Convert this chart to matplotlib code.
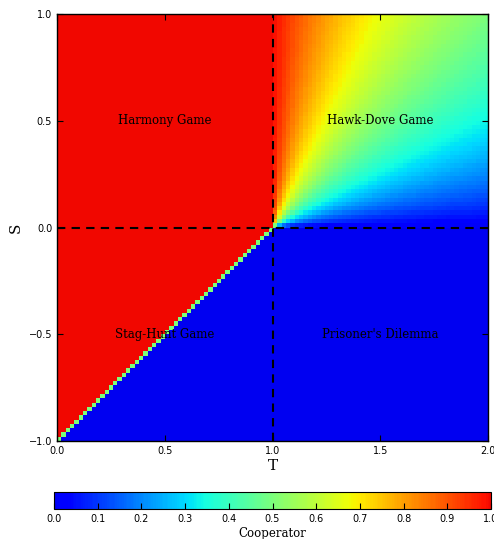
import numpy as np
import matplotlib
matplotlib.use("Agg")
import matplotlib.pyplot as plt
from matplotlib.colors import LinearSegmentedColormap

# Axes ranges / grid (100 x 100 cells)
T_range = [0.0, 2.0]
S_range = [-1.0, 1.0]
n_cells = 100

# Region labels and their (T, S) anchor points
game_labels = ["Harmony Game", "Hawk-Dove Game", "Stag-Hunt Game", "Prisoner's Dilemma"]
label_T = [0.5, 1.5, 0.5, 1.5]
label_S = [0.5, 0.5, -0.5, -0.5]

x_ticks = [0.0, 0.5, 1.0, 1.5, 2.0]
y_ticks = [-1.0, -0.5, 0.0, 0.5, 1.0]
cbar_ticks = [0.0, 0.1, 0.2, 0.3, 0.4, 0.5, 0.6, 0.7, 0.8, 0.9, 1.0]

# Stationary cooperator fraction of the replicator dynamics (cell centres)
dT = (T_range[1] - T_range[0]) / n_cells
dS = (S_range[1] - S_range[0]) / n_cells
T_c = T_range[0] + dT * (np.arange(n_cells) + 0.5)
S_c = S_range[0] + dS * (np.arange(n_cells) + 0.5)
Z = np.zeros((n_cells, n_cells))
for j in range(n_cells):          # rows: S
    for i in range(n_cells):      # cols: T
        T = T_c[i]; S = S_c[j]
        if T < 1 and S > 0:
            Z[j, i] = 1.0
        elif T < 1 and S < 0:
            if i == j:
                Z[j, i] = 0.5
            elif j > i:
                Z[j, i] = 1.0
            else:
                Z[j, i] = 0.0
        elif T > 1 and S > 0:
            Z[j, i] = S / (S + T - 1)
        else:
            Z[j, i] = 0.0

jet = plt.get_cmap("jet")
cmap = LinearSegmentedColormap.from_list("jet_trunc", jet(np.linspace(0.1, 0.9, 256)))

W, H = 494, 539
fig = plt.figure(figsize=(W / 100, H / 100), dpi=100)
ax = fig.add_axes([57 / W, (H - 441) / H, (488 - 57) / W, (441 - 14) / H])
im = ax.imshow(Z, origin="lower", extent=[T_range[0], T_range[1], S_range[0], S_range[1]],
               aspect="auto", interpolation="nearest", cmap=cmap, vmin=0, vmax=1)
ax.axvline(1.0, color="black", linestyle="--", linewidth=1.5, dashes=(4, 3))
ax.axhline(0.0, color="black", linestyle="--", linewidth=1.5, dashes=(4, 3))
ax.set_xlim(T_range)
ax.set_ylim(S_range)
ax.set_xticks(x_ticks)
ax.set_yticks(y_ticks)
ax.tick_params(direction="in", top=True, right=True, labelsize=7, length=4)
ax.set_xlabel("T", family="DejaVu Serif", fontsize=11, labelpad=2)
ax.set_ylabel("S", family="DejaVu Serif", fontsize=11, labelpad=4)
for lab, t, s in zip(game_labels, label_T, label_S):
    ax.text(t, s, lab, ha="center", va="center", family="DejaVu Serif", fontsize=8.5)
for sp in ax.spines.values():
    sp.set_linewidth(1.0)

cax = fig.add_axes([54 / W, (H - 509) / H, (491 - 54) / W, 17 / H])
cb = fig.colorbar(im, cax=cax, orientation="horizontal", ticks=cbar_ticks)
cb.ax.tick_params(direction="in", labelsize=7, length=4)
cb.set_label("Cooperator", family="DejaVu Serif", fontsize=8.5, labelpad=2)

fig.savefig("out.png", dpi=100)
